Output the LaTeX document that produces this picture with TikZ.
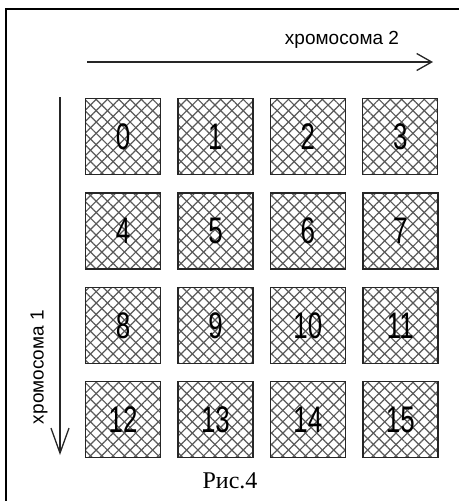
\documentclass[tikz,border=0pt]{standalone}
\usepackage{fontspec}
\setmainfont{Liberation Serif}
\setsansfont{Liberation Sans}
\newfontfamily\narrowsans[FakeStretch=0.7]{Liberation Sans}
\usepackage{xcolor}
\usepackage{tikz}
\usetikzlibrary{positioning,patterns.meta,arrows.meta}
\definecolor{hatchgray}{gray}{0.35}
\definecolor{inkgray}{gray}{0.15}

\begin{document}
\begin{tikzpicture}[x=1pt, y=-1pt, node distance=17pt and 16pt,
    cell/.style={draw=inkgray, line width=1.4pt, minimum width=75pt, minimum height=76pt, inner sep=0pt,
      font=\narrowsans\fontsize{37}{37}\selectfont,
      preaction={pattern={Lines[angle=45, distance=8pt, line width=1.2pt]}, pattern color=hatchgray},
      pattern={Lines[angle=-45, distance=8pt, line width=1.2pt]}, pattern color=hatchgray},
    axislabel/.style={font=\sffamily\fontsize{19}{19}\selectfont, inner sep=0pt}]
  \useasboundingbox (0,0) rectangle (459,501);
  % frame
  \draw[line width=1.4pt] (6,501) -- (6,9) -- (459,9);
  % cells
  \node[cell, anchor=north west] (c0) at (85,98) {0};
  \node[cell, right=of c0] (c1) {1};
  \node[cell, right=of c1] (c2) {2};
  \node[cell, right=of c2] (c3) {3};
  \node[cell, below=of c0] (c4) {4};
  \node[cell, right=of c4] (c5) {5};
  \node[cell, right=of c5] (c6) {6};
  \node[cell, right=of c6] (c7) {7};
  \node[cell, below=of c4] (c8) {8};
  \node[cell, right=of c8] (c9) {9};
  \node[cell, right=of c9] (c10) {10};
  \node[cell, right=of c10] (c11) {11};
  \node[cell, below=of c8] (c12) {12};
  \node[cell, right=of c12] (c13) {13};
  \node[cell, right=of c13] (c14) {14};
  \node[cell, right=of c14] (c15) {15};
  % axes
  \coordinate (h0) at (87,62);
  \coordinate (h1) at (433,62);
  \coordinate (v0) at (60,97);
  \coordinate (v1) at (60,455);
  \draw[-{Straight Barb[length=15pt, width=17pt]}, inkgray, line width=1.3pt] (h0) -- (h1);
  \draw[-{Straight Barb[length=25pt, width=18pt]}, inkgray, line width=1.3pt] (v0) -- (v1);
  \node[axislabel] (lab2) at (342,40) {хромосома 2};
  \node[axislabel, rotate=90] (lab1) at (39,367) {хромосома 1};
  % caption
  \node[font=\fontsize{24}{24}\selectfont, inner sep=0pt] (cap) at (230,481) {Рис.4};
\end{tikzpicture}
\end{document}
